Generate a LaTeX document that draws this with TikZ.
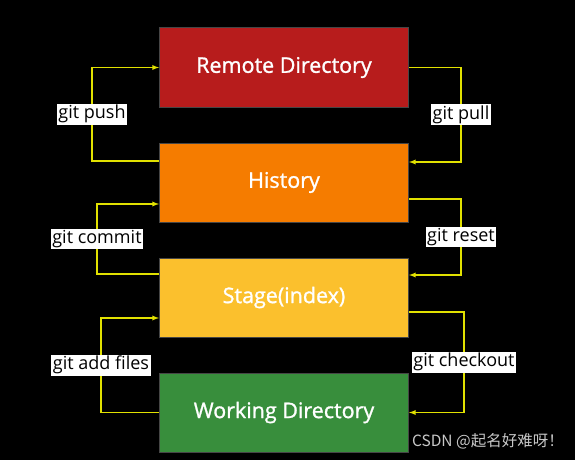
\documentclass[tikz,border=0pt]{standalone}
\usepackage{fontspec}
\setmainfont{Open Sans}
\newfontfamily\boxfont{Open Sans}[FakeBold=1.2]
\newfontfamily\cjk{Noto Sans CJK SC}
\usetikzlibrary{positioning, arrows}
\definecolor{remotered}{RGB}{183,28,28}
\definecolor{historange}{RGB}{245,124,0}
\definecolor{stageyellow}{RGB}{251,192,45}
\definecolor{workgreen}{RGB}{56,142,60}
\definecolor{boxline}{RGB}{70,70,70}
\definecolor{wire}{RGB}{225,225,0}
\definecolor{marktext}{RGB}{200,200,200}
\tikzstyle{repo} = [rectangle, minimum width=249pt, minimum height=79pt, text centered, draw=boxline, line width=1pt, text=white, font=\boxfont\fontsize{21.5}{25}\selectfont]
\tikzstyle{cmd} = [rectangle, fill=white, text=black, inner sep=1.5pt, font=\fontsize{18}{21}\selectfont]
\tikzstyle{arrow} = [line width=1.3pt, draw=wire, ->, >=latex]

\begin{document}
\begin{tikzpicture}[node distance=115pt, x=1pt, y=1pt]
	\fill[black] (0,0) rectangle (575,-460);
	\node (remote) [repo, fill=remotered] at (284,-67.5) {Remote Directory};
	\node (hist) [repo, fill=historange, below of=remote] {History};
	\node (stage) [repo, fill=stageyellow, below of=hist] {Stage(index)};
	\node (work) [repo, fill=workgreen, below of=stage] {Working Directory};
	\node (mark) [anchor=east, text=marktext, font=\cjk\fontsize{15.5}{18}\selectfont, inner sep=0pt] at (564,-441) {CSDN @起名好难呀！};
	\draw [arrow] ([yshift=21.5pt]hist.west) -- ++(-67,0) |- (remote.west) node[cmd, pos=0.25] {git push};
	\draw [arrow] ([yshift=23.5pt]stage.west) -- ++(-62,0) |- ([yshift=-21.5pt]hist.west) node[cmd, pos=0.25] {git commit};
	\draw [arrow] (work.west) -- ++(-58,0) |- ([yshift=-20.5pt]stage.west) node[cmd, pos=0.25] {git add files};
	\draw [arrow] (remote.east) -- ++(52,0) |- ([yshift=20.5pt]hist.east) node[cmd, pos=0.25] {git pull};
	\draw [arrow] ([yshift=-16.5pt]hist.east) -- ++(52,0) |- ([yshift=22.5pt]stage.east) node[cmd, pos=0.25] {git reset};
	\draw [arrow] ([yshift=-14.5pt]stage.east) -- ++(55,0) |- (work.east) node[cmd, pos=0.25] {git checkout};
\end{tikzpicture}
\end{document}
